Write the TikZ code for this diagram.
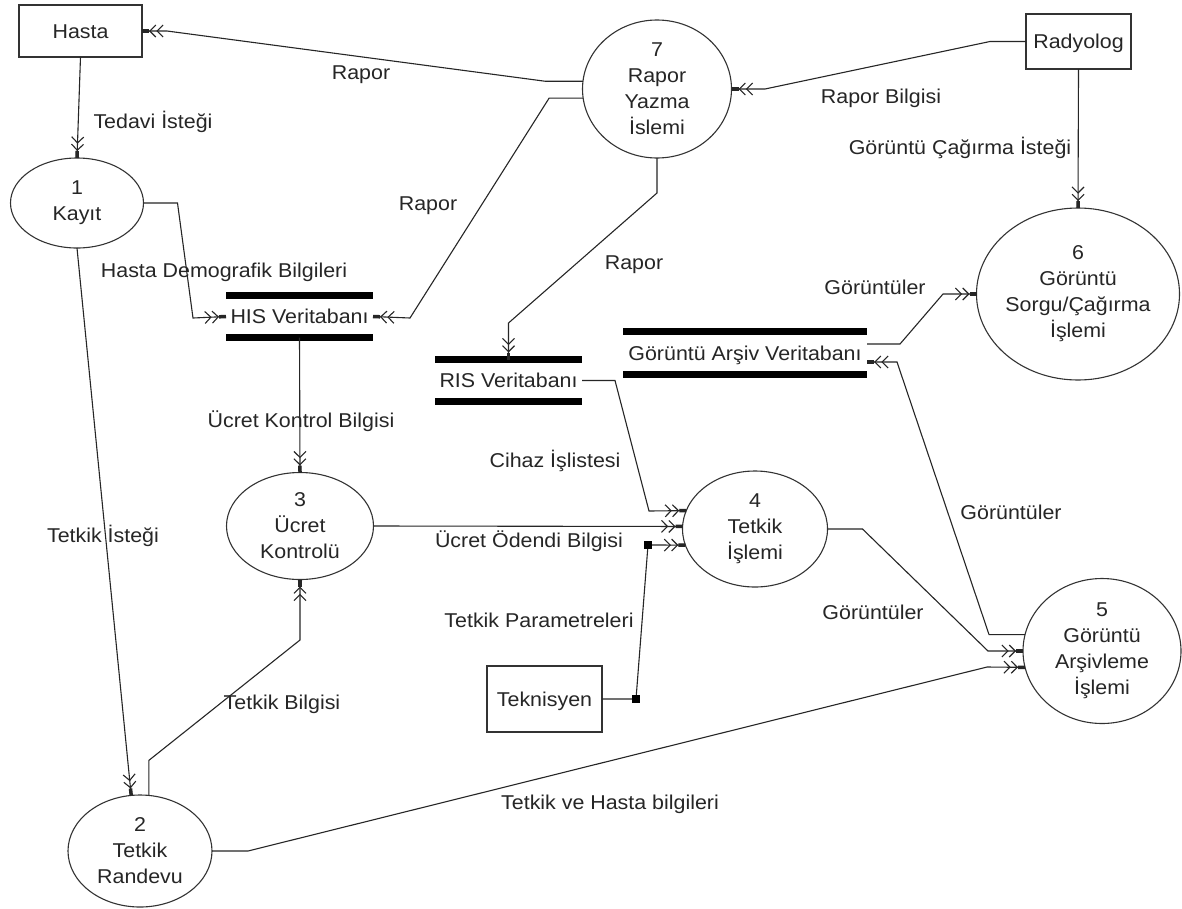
\documentclass[tikz,border=0pt]{standalone}
\usepackage{fontspec}
\setmainfont[FakeStretch=1.07]{Liberation Sans}
\usetikzlibrary{shapes.geometric,arrows.meta,calc}
\begin{document}
\begin{tikzpicture}[x=1pt,y=-1pt,
  every node/.style={font=\fontsize{20}{26}\selectfont, inner sep=0pt, outer sep=0pt, text=black!85},
  proc/.style={draw=black!80, ellipse, line width=1.1pt},
  ext/.style={draw=black!80, rectangle, line width=1.1pt, text height=15pt, text depth=1pt},
  store/.style={rectangle, text height=15pt, text depth=1pt},
  bar/.style={line width=7pt},
  lbl/.style={text height=15pt, text depth=1pt},
  ptxt/.style={align=center},
  flow/.style={line width=1.1pt, draw=black!85, -{Straight Barb[length=6pt,width=12pt] Straight Barb[length=6pt,width=12pt] Rectangle[length=7pt,width=3.5pt]}},
  plain/.style={line width=1.1pt, draw=black!85},
]
\useasboundingbox[fill=white] (0,0) rectangle (1182,908);

% external entities
\node[ext, minimum width=123pt, minimum height=52pt] (hasta) at (80.5,31) {Hasta};
\node[ext, minimum width=105pt, minimum height=55pt] (radyolog) at (1078.5,41.5) {Radyolog};
\node[ext, minimum width=115pt, minimum height=66pt] (teknisyen) at (544.5,699) {Teknisyen};

% processes
\node[proc, minimum width=133pt, minimum height=90pt] (n1) at (77,203) {};
\node[ptxt] (t1) at (n1.center) {1\\Kayıt};
\node[proc, minimum width=144pt, minimum height=112pt] (n2) at (140,851) {};
\node[ptxt] (t2) at (n2.center) {2\\Tetkik\\Randevu};
\node[proc, minimum width=147pt, minimum height=107pt] (n3) at (300,526) {};
\node[ptxt] (t3) at (n3.center) {3\\Ücret\\Kontrolü};
\node[proc, minimum width=145pt, minimum height=116pt] (n4) at (755,529) {};
\node[ptxt] (t4) at (n4.center) {4\\Tetkik\\İşlemi};
\node[proc, minimum width=158pt, minimum height=145pt] (n5) at (1102,651) {};
\node[ptxt] (t5) at (n5.center) {5\\Görüntü\\Arşivleme\\İşlemi};
\node[proc, minimum width=203pt, minimum height=172pt] (n6) at (1078,294) {};
\node[ptxt] (t6) at (n6.center) {6\\Görüntü\\Sorgu/Çağırma\\İşlemi};
\node[proc, minimum width=149pt, minimum height=138pt] (n7) at (657,89) {};
\node[ptxt] (t7) at (n7.center) {7\\Rapor\\Yazma\\İslemi};

% data stores
\node[store, minimum width=147pt, minimum height=42pt] (his) at (299.5,316.5) {HIS Veritabanı};
\draw[bar] (his.north west) -- (his.north east) (his.south west) -- (his.south east);
\node[store, minimum width=147pt, minimum height=42pt] (ris) at (508.5,380.5) {RIS Veritabanı};
\draw[bar] (ris.north west) -- (ris.north east) (ris.south west) -- (ris.south east);
\node[store, minimum width=244pt, minimum height=42.5pt] (gav) at (745,353) {Görüntü Arşiv Veritabanı};
\draw[bar] (gav.north west) -- (gav.north east) (gav.south west) -- (gav.south east);

% flows
\draw[flow] (radyolog.west) -- ++(-36,0) -- (765,89) -- (n7.east);
\draw[flow] (radyolog.south) -- (n6.north);
\draw[flow] (n7.174) -- ++(-38,0) -- (167,31) -- (hasta.east);
\draw[flow] (n7.187) -- ++(-34,0) -- (410,318) -- (his.east);
\draw[flow] (n7.south) -- ++(0,35) -- (508.5,323) -- (ris.north);
\draw[flow] (hasta.south) -- (n1.north);
\draw[flow] (n1.east) -- ++(34,0) -- (193,318) -- (his.west);
\draw[flow] (n1.south) -- (n2.99);
\draw[flow] (n2.81) -- ++(0,-35) -- (300,640) -- (n3.south);
\draw[flow] (his.south) -- (n3.north);
\draw[flow] (n3.east) -- (n4.178);
\draw[flow] (ris.east) -- ++(33,0) -- (649,511) -- (n4.165);
\draw[plain] (teknisyen.east) -- ++(34,0) coordinate (sq1) -- (648,545) coordinate (sq2);
\draw[flow] (sq2) -- (n4.193);
\fill[black] (sq1) ++(-4,-4) rectangle ++(8,8);
\fill[black] (sq2) ++(-4,-4) rectangle ++(8,8);
\draw[flow] (n4.east) -- ++(35,0) -- (988,651) -- (n5.west);
\draw[flow] (n2.east) -- ++(36,0) -- (987,667) -- (n5.192);
\draw[flow] (n5.168) -- ++(-36,0) -- (897,362) -- ($(gav.east)+(0,9)$);
\draw[flow] ($(gav.east)+(0,-9)$) -- ++(33,0) -- (943,294) -- (n6.west);

% labels
\node[lbl] (l1) at (361,72) {Rapor};
\node[lbl] (l2) at (428,203) {Rapor};
\node[lbl] (l3) at (634,262) {Rapor};
\node[lbl] (l4) at (881,96) {Rapor Bilgisi};
\node[lbl] (l5) at (960,147) {Görüntü Çağırma İsteği};
\node[lbl] (l6) at (153,121) {Tedavi İsteği};
\node[lbl] (l7) at (224,270) {Hasta Demografik Bilgileri};
\node[lbl] (l8) at (103,535) {Tetkik İsteği};
\node[lbl] (l9) at (301,420) {Ücret Kontrol Bilgisi};
\node[lbl] (l10) at (555,460) {Cihaz İşlistesi};
\node[lbl] (l11) at (529,540) {Ücret Ödendi Bilgisi};
\node[lbl] (l12) at (539,620) {Tetkik Parametreleri};
\node[lbl] (l13) at (282,702) {Tetkik Bilgisi};
\node[lbl] (l14) at (610,802) {Tetkik ve Hasta bilgileri};
\node[lbl] (l15) at (873,612) {Görüntüler};
\node[lbl] (l16) at (1011,512) {Görüntüler};
\node[lbl] (l17) at (875,287) {Görüntüler};
\end{tikzpicture}
\end{document}
